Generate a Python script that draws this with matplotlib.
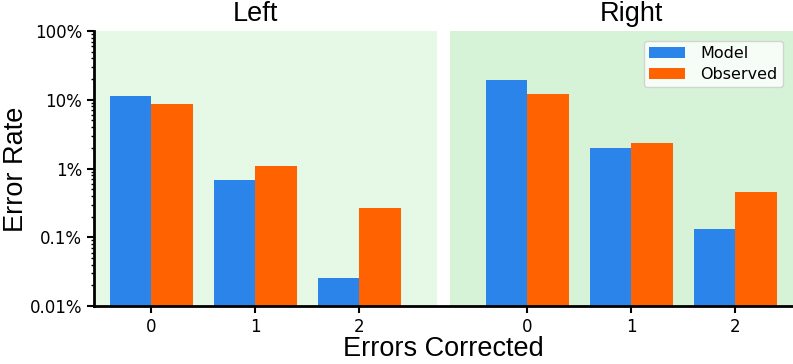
import matplotlib
matplotlib.use("Agg")
import matplotlib.pyplot as plt
import numpy as np
from matplotlib.ticker import FixedLocator, FixedFormatter, LogLocator

# error rates (fraction)
categories = ["0", "1", "2"]
left_model = [0.115, 0.0067, 0.00026]
left_observed = [0.086, 0.0109, 0.0027]
right_model = [0.194, 0.0197, 0.0013]
right_observed = [0.122, 0.0233, 0.0045]

blue = "#2b84ea"
orange = "#ff6200"
offset = 3.615
w = 0.4

fig = plt.figure(figsize=(7.93, 3.64), dpi=100)
ax = fig.add_axes([0.1185, 0.159, 0.8815, 0.756])

x_left = np.arange(len(categories))
x_right = x_left + offset

ax.axvspan(-0.55, 2.75, color="#e6f8e6", zorder=0, lw=0)
ax.axvspan(2.875, 6.2, color="#d7f3d7", zorder=0, lw=0)

ax.bar(x_left - w / 2, left_model, w, color=blue, label="Model", zorder=2)
ax.bar(x_left + w / 2, left_observed, w, color=orange, label="Observed", zorder=2)
ax.bar(x_right - w / 2, right_model, w, color=blue, zorder=2)
ax.bar(x_right + w / 2, right_observed, w, color=orange, zorder=2)

ax.set_yscale("log")
ax.set_ylim(1e-4, 1)
ax.set_xlim(-0.55, 6.17)
ax.yaxis.set_major_locator(FixedLocator([1e-4, 1e-3, 1e-2, 1e-1, 1]))
ax.yaxis.set_major_formatter(FixedFormatter(["0.01%", "0.1%", "1%", "10%", "100%"]))
ax.yaxis.set_minor_locator(LogLocator(base=10, subs=np.arange(2, 10)))
ax.set_xticks(list(x_left) + list(x_right))
ax.set_xticklabels(categories + categories)
ax.tick_params(labelsize=12)
ax.tick_params(axis="y", which="major", length=5, width=1.5)
ax.tick_params(axis="y", which="minor", length=2.5, width=1)
ax.tick_params(axis="x", length=5, width=1.5)

for s in ["top", "right"]:
    ax.spines[s].set_visible(False)
for s in ["left", "bottom"]:
    ax.spines[s].set_linewidth(2)

tfont = {"family": "Liberation Sans", "size": 19.5}
ax.text(1.0, 1.015, "Left", transform=ax.get_xaxis_transform(), ha="center", va="bottom", fontdict=tfont)
ax.text(offset + 1, 1.015, "Right", transform=ax.get_xaxis_transform(), ha="center", va="bottom", fontdict=tfont)
fig.text(0.004, 0.535, "Error Rate", rotation=90, ha="left", va="center", fontdict=tfont)
ax.set_xlabel("Errors Corrected", fontdict=tfont, labelpad=0)

ax.legend(loc="upper right", fontsize=11.5, frameon=True, fancybox=True,
          borderaxespad=0.6, handlelength=2.2, handletextpad=1.0,
          labelspacing=0.35, borderpad=0.35, edgecolor="#cccccc")

fig.savefig("out.png", dpi=100)
